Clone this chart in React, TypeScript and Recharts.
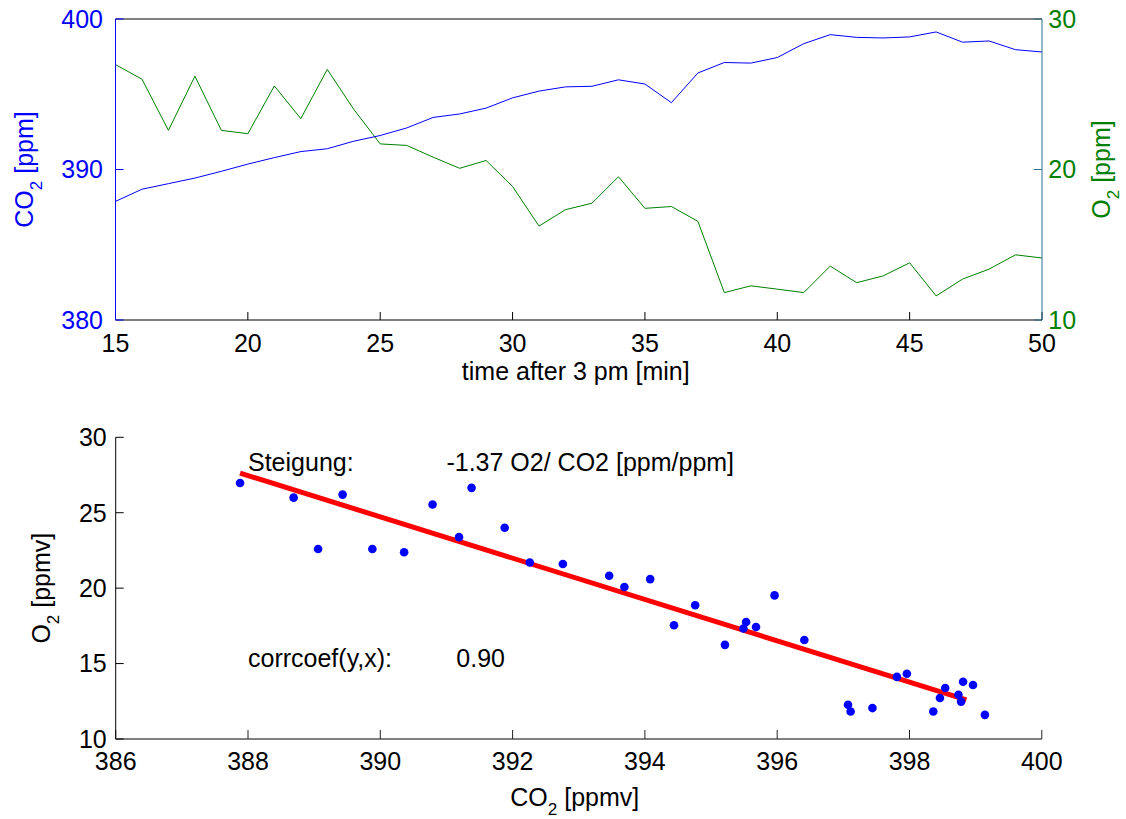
import React from 'react';
import {
  LineChart,
  Line,
  XAxis,
  YAxis,
  ScatterChart,
  Scatter,
  ReferenceLine,
  ReferenceDot,
  Label,
} from 'recharts';

// ---- data ----
const minutes = [15, 16, 17, 18, 19, 20, 21, 22, 23, 24, 25, 26, 27, 28, 29, 30, 31, 32, 33, 34, 35, 36, 37, 38, 39, 40, 41, 42, 43, 44, 45, 46, 47, 48, 49, 50];
const co2 = [387.88, 388.69, 389.06, 389.43, 389.88, 390.36, 390.79, 391.19, 391.38, 391.88, 392.26, 392.76, 393.46, 393.69, 394.08, 394.76, 395.21, 395.49, 395.53, 395.96, 395.68, 394.44, 396.41, 397.11, 397.07, 397.44, 398.36, 398.96, 398.78, 398.74, 398.81, 399.14, 398.46, 398.54, 397.96, 397.81];
const o2 = [26.97, 26.0, 22.6, 26.2, 22.6, 22.38, 25.55, 23.38, 26.65, 24.0, 21.7, 21.6, 20.82, 20.08, 20.6, 18.87, 16.24, 17.33, 17.76, 19.52, 17.42, 17.54, 16.56, 11.82, 12.27, 12.05, 11.82, 13.58, 12.48, 12.93, 13.8, 11.6, 12.72, 13.38, 14.33, 14.12];

const timeTicks = [15, 20, 25, 30, 35, 40, 45, 50];
const co2Ticks = [380, 390, 400];
const o2Ticks = [10, 20, 30];
const scatterXTicks = [386, 388, 390, 392, 394, 396, 398, 400];
const scatterYTicks = [10, 15, 20, 25, 30];

const fitCO2 = [387.88, 398.86];
const fitO2 = [27.63, 12.59];

const annotationLabels = ['Steigung:', '-1.37 O2/ CO2 [ppm/ppm]', 'corrcoef(y,x):', '0.90'];
const annotationX = [388.0, 391.0, 388.0, 391.15];
const annotationY = [27.74, 27.74, 14.78, 14.78];

// ---- styles ----
const FONT = '"Liberation Sans", Arial, Helvetica, sans-serif';
const FS = 25;
const BLUE = '#0000ff';
const GREEN = '#008000';
const RIGHT_AXIS = '#2f6f8f';

const topData = minutes.map((t, i) => ({ t, co2: co2[i], o2: o2[i] }));
const scatterData = co2.map((c, i) => ({ x: c, y: o2[i] }));

function SubTitle(props: {
  x: number;
  y: number;
  vertical?: boolean;
  color: string;
  pre: string;
  sub: string;
  post: string;
}) {
  const { x, y, vertical, color, pre, sub, post } = props;
  return (
    <text
      x={0}
      y={0}
      transform={`translate(${x},${y})${vertical ? ' rotate(-90)' : ''}`}
      textAnchor="middle"
      fill={color}
      fontSize={FS}
      fontFamily={FONT}
    >
      {pre}
      <tspan fontSize={17} dy={9}>
        {sub}
      </tspan>
      <tspan dy={-9}>{post}</tspan>
    </text>
  );
}

export default function App() {
  return (
    <div
      style={{
        position: 'absolute',
        left: 0,
        top: 0,
        width: 1126,
        height: 819,
        background: '#fff',
        fontFamily: FONT,
      }}
    >
      <div style={{ position: 'absolute', left: 0, top: 0 }}>
        <LineChart
          width={1126}
          height={400}
          data={topData}
          margin={{ top: 18, right: 24, bottom: 30, left: 55.5 }}
        >
          <XAxis
            xAxisId="b"
            dataKey="t"
            type="number"
            domain={[15, 50]}
            ticks={timeTicks}
            interval={0}
            height={50}
            tickSize={-8}
            tickMargin={22}
            stroke="#000"
            tick={{ fill: '#000', fontSize: FS, fontFamily: FONT }}
          >
            <Label
              content={(p: any) => (
                <text
                  x={p.viewBox.x + p.viewBox.width / 2 - 3}
                  y={p.viewBox.y + 60}
                  textAnchor="middle"
                  fill="#000"
                  fontSize={FS}
                  fontFamily={FONT}
                >
                  time after 3 pm [min]
                </text>
              )}
            />
          </XAxis>
          <XAxis
            xAxisId="t"
            orientation="top"
            dataKey="t"
            type="number"
            domain={[15, 50]}
            ticks={timeTicks}
            interval={0}
            height={1}
            tickSize={-8}
            tick={false}
            stroke="#000"
          />
          <YAxis
            yAxisId="l"
            type="number"
            domain={[380, 400]}
            ticks={co2Ticks}
            interval={0}
            width={60}
            tickSize={-8}
            tickMargin={20.5}
            stroke={BLUE}
            tick={{ fill: BLUE, fontSize: FS, fontFamily: FONT }}
          >
            <Label
              content={(p: any) => (
                <SubTitle
                  x={p.viewBox.x - 22.5}
                  y={p.viewBox.y + p.viewBox.height / 2}
                  vertical
                  color={BLUE}
                  pre="CO"
                  sub="2"
                  post=" [ppm]"
                />
              )}
            />
          </YAxis>
          <YAxis
            yAxisId="r"
            orientation="right"
            type="number"
            domain={[10, 30]}
            ticks={o2Ticks}
            interval={0}
            width={60}
            tickSize={-8}
            tickMargin={14.3}
            stroke={RIGHT_AXIS}
            tick={{ fill: GREEN, fontSize: FS, fontFamily: FONT }}
          >
            <Label
              content={(p: any) => (
                <SubTitle
                  x={p.viewBox.x + 68}
                  y={p.viewBox.y + p.viewBox.height / 2}
                  vertical
                  color={GREEN}
                  pre="O"
                  sub="2"
                  post=" [ppm]"
                />
              )}
            />
          </YAxis>
          <Line
            xAxisId="b"
            yAxisId="r"
            type="linear"
            dataKey="o2"
            stroke={GREEN}
            strokeWidth={1}
            dot={false}
            isAnimationActive={false}
          />
          <Line
            xAxisId="b"
            yAxisId="l"
            type="linear"
            dataKey="co2"
            stroke={BLUE}
            strokeWidth={1}
            dot={false}
            isAnimationActive={false}
          />
        </LineChart>
      </div>
      <div style={{ position: 'absolute', left: 0, top: 400 }}>
        <ScatterChart
          width={1126}
          height={419}
          margin={{ top: 37.3, right: 84.2, bottom: 30, left: 55.7 }}
        >
          <XAxis
            dataKey="x"
            type="number"
            domain={[386, 400]}
            ticks={scatterXTicks}
            interval={0}
            height={50}
            tickSize={-9}
            tickMargin={22}
            axisLine={{ stroke: '#808080', strokeWidth: 2 }}
            tickLine={{ stroke: '#222' }}
            tick={{ fill: '#000', fontSize: FS, fontFamily: FONT }}
          >
            <Label
              content={(p: any) => (
                <SubTitle
                  x={p.viewBox.x + p.viewBox.width / 2 - 4}
                  y={p.viewBox.y + 67}
                  color="#000"
                  pre="CO"
                  sub="2"
                  post=" [ppmv]"
                />
              )}
            />
          </XAxis>
          <YAxis
            dataKey="y"
            type="number"
            domain={[10, 30]}
            ticks={scatterYTicks}
            interval={0}
            width={60}
            tickSize={-8}
            tickMargin={17}
            stroke="#000"
            tick={{ fill: '#000', fontSize: FS, fontFamily: FONT }}
          >
            <Label
              content={(p: any) => (
                <SubTitle
                  x={p.viewBox.x - 5.7}
                  y={p.viewBox.y + p.viewBox.height / 2}
                  vertical
                  color="#000"
                  pre="O"
                  sub="2"
                  post=" [ppmv]"
                />
              )}
            />
          </YAxis>
          <Scatter
            data={scatterData}
            fill={BLUE}
            isAnimationActive={false}
            shape={(p: any) => <circle cx={p.cx} cy={p.cy} r={4.3} fill={BLUE} />}
          />
          <ReferenceLine
            segment={[
              { x: fitCO2[0], y: fitO2[0] },
              { x: fitCO2[1], y: fitO2[1] },
            ]}
            stroke="#ff0000"
            strokeWidth={5}
          />
          {annotationLabels.map((txt, i) => (
            <ReferenceDot
              key={txt}
              x={annotationX[i]}
              y={annotationY[i]}
              r={0}
              fill="none"
              stroke="none"
            >
              <Label
                content={(p: any) => (
                  <text
                    x={p.viewBox.x}
                    y={p.viewBox.y}
                    textAnchor="start"
                    fill="#000"
                    fontSize={FS}
                    fontFamily={FONT}
                  >
                    {txt}
                  </text>
                )}
              />
            </ReferenceDot>
          ))}
        </ScatterChart>
      </div>
    </div>
  );
}
